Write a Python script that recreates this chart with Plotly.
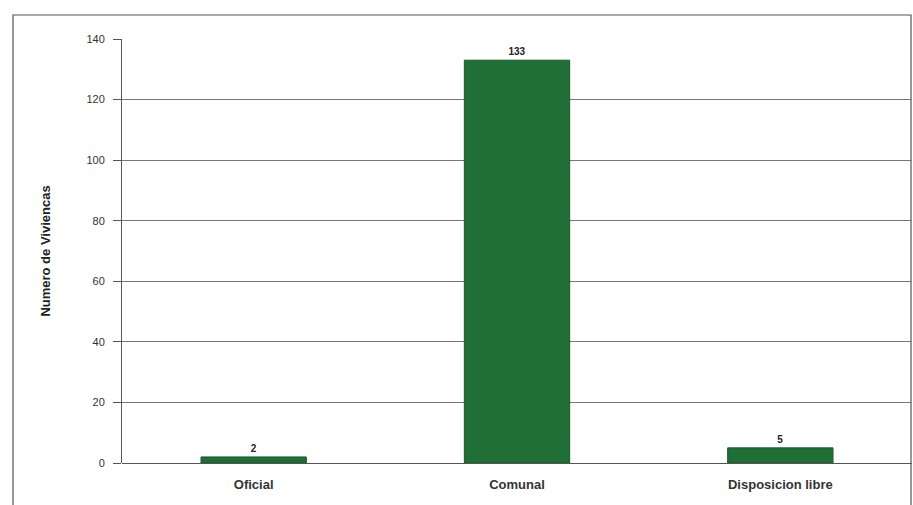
import plotly.graph_objects as go

categories = ["Oficial", "Comunal", "Disposicion libre"]
values = [2, 133, 5]
y_ticks = [0, 20, 40, 60, 80, 100, 120, 140]

fig = go.Figure()
fig.add_trace(go.Bar(
    x=categories, y=values, width=0.4,
    marker=dict(color="#1f6f36", line=dict(color="#165a29", width=1)),
    text=["<b>%d</b>" % v for v in values], textposition="outside",
    textfont=dict(family="Liberation Sans, Arial", size=10, color="#222"),
    cliponaxis=False,
))

L, R, T, B = 122, 1, 39, 42
W, H = 913, 505
pw, ph = W - L - R, H - T - B

fig.update_layout(
    width=W, height=H,
    margin=dict(l=L, r=R, t=T, b=B),
    paper_bgcolor="white", plot_bgcolor="white",
    showlegend=False,
    font=dict(family="Liberation Sans, Arial", color="#222"),
    xaxis=dict(
        range=[-0.5, 2.5], showgrid=False, zeroline=False,
        showline=False, ticks="", ticklabelstandoff=12,
        tickvals=categories, ticktext=["<b>%s</b>" % c for c in categories],
        tickfont=dict(size=13, family="Liberation Sans, Arial", color="#333"),
    ),
    yaxis=dict(
        range=[0, 140], tickvals=y_ticks, showgrid=True, gridcolor="#777",
        gridwidth=1, zeroline=True, zerolinecolor="#555", zerolinewidth=1,
        showline=True, linecolor="#555", linewidth=1,
        ticks="outside", ticklen=8, tickcolor="#555", ticklabelstandoff=6,
        tickfont=dict(size=11, color="#333"),
        title=dict(text="<b>Numero de Viviencas</b>", font=dict(size=13, color="#222"), standoff=32),
    ),
)

# outer chart frame
fig.add_shape(type="rect", xref="paper", yref="paper",
              x0=(13 - L) / pw, x1=(911 - L) / pw,
              y0=-0.3, y1=(H - B - 15) / ph,
              line=dict(color="#555", width=1.2), fillcolor="rgba(0,0,0,0)", layer="below")

fig.write_html("out.html")
